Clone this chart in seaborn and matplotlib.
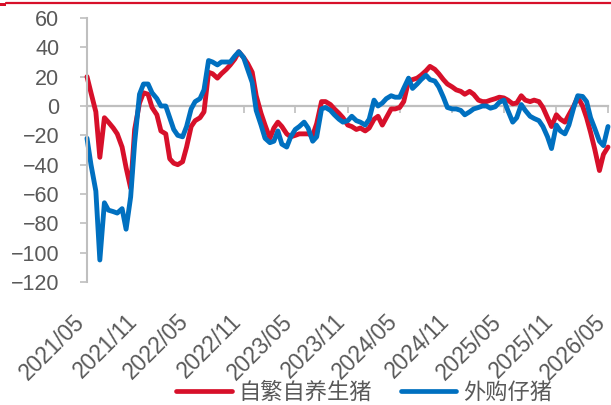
import matplotlib
matplotlib.use("Agg")
import matplotlib.pyplot as plt
import matplotlib.dates as mdates
import matplotlib.transforms as mtransforms
from matplotlib.lines import Line2D
from matplotlib.patches import Rectangle
import seaborn as sns
import pandas as pd

# Semi-monthly observations, May 2021 - May 2026
dates = pd.date_range("2021-05-01", periods=121, freq="SMS")

self_bred = [
    20, 9, -4, -35, -8, -11, -15, -19, -28, -42,
    -56, -16, 2, 9, 8, -1, -6, -17, -19, -36,
    -39, -40, -38, -28, -14, -10, -8, -4, 23, 22,
    19, 22, 25, 28, 32, 37, 33, 29, 23, 7,
    -5, -13, -22, -15, -11, -14, -19, -21, -20, -19,
    -19, -19, -20, -12, 3, 3, 1, -2, -5, -8,
    -13, -14, -16, -15, -17, -15, -9, -7, -13, -8,
    -2, -2, -1, 3, 17, 18, 19, 21, 24, 27,
    25, 22, 18, 15, 13, 11, 10, 8, 10, 8,
    4, 3, 3, 4, 5, 6, 5.5, 4, 1.5, 2,
    7, 4, 3, 4, 3, -1, -8, -14, -6, -9,
    -11, -6, 0, 6, 0, -8, -18, -29, -44, -33,
    -28,
]

piglets = [
    -22, -40, -58, -105, -66, -71, -72, -73, -70, -84,
    -62, -25, 8, 15, 15, 9, 5, 0, 0, -8,
    -16, -20, -21, -14, -2, 3, 5, 11, 31, 30,
    28, 30, 30, 30, 34, 37, 33, 25, 16, -3,
    -13, -22, -25, -24, -17, -26, -28, -21, -16, -14,
    -11, -15, -24, -21, -2, -1, -3, -6, -9, -11,
    -10, -7, -10, -11, -13, -9, 4, 0, 2, 5,
    7, 6, 6, 12, 19, 12, 15, 18, 21, 18,
    17, 13, 6, -1, -2, -2, -3, -6, -4, -2,
    -1, 0, 0, -1.5, -0.5, 2.5, 4, -3, -11, -8,
    1, -3, -7, -8.5, -10, -14, -21, -29, -13, -17,
    -19, -13, -1, 7, 6.5, 3, -8, -15, -24, -27,
    -14,
]

series_names = ["自繁自养生猪", "外购仔猪"]
tick_labels = ["2021/05", "2021/11", "2022/05", "2022/11", "2023/05", "2023/11",
               "2024/05", "2024/11", "2025/05", "2025/11", "2026/05"]
y_ticks = [60, 40, 20, 0, -20, -40, -60, -80, -100, -120]

RED = "#D7102A"
BLUE = "#0070C0"
GREY_TEXT = "#595959"
GREY_LINE = "#BFBFBF"

df = pd.concat([
    pd.DataFrame({"date": dates, "value": self_bred, "series": series_names[0]}),
    pd.DataFrame({"date": dates, "value": piglets, "series": series_names[1]}),
])

sns.set_theme(style="white")
plt.rcParams["font.family"] = ["Liberation Sans", "Noto Sans CJK SC", "DejaVu Sans"]

fig = plt.figure(figsize=(6.11, 4.05), dpi=100)
ax = fig.add_axes([87 / 611, 1 - 282 / 405, (608 - 87) / 611, (282 - 18) / 405])

sns.lineplot(data=df, x="date", y="value", hue="series", hue_order=series_names,
             palette=[RED, BLUE], linewidth=3.5, sort=False, ax=ax,
             legend=False, clip_on=False)

ax.set_xlim(pd.Timestamp("2021-05-01"), pd.Timestamp("2026-05-01"))
ax.set_ylim(-120, 60)
ax.set_yticks(y_ticks)
ax.set_xlabel("")
ax.set_ylabel("")

for side in ["top", "right", "bottom"]:
    ax.spines[side].set_visible(False)
ax.spines["left"].set_color(GREY_LINE)
ax.spines["left"].set_linewidth(1.5)

ax.tick_params(axis="y", which="major", left=True, direction="out", length=5,
               width=1.2, color=GREY_LINE, pad=15, labelsize=15.5,
               labelcolor=GREY_TEXT)
ax.tick_params(axis="x", which="major", bottom=True, length=0, pad=26,
               labelsize=16.3, labelcolor=GREY_TEXT)

tick_dates = [pd.Timestamp(t.replace("/", "-") + "-01") for t in tick_labels]
ax.set_xticks(tick_dates)
ax.set_xticklabels(tick_labels, rotation=45, ha="right", va="center",
                   rotation_mode="anchor")
# nudge the rotated date labels slightly left so the last one stays inside
shift = mtransforms.ScaledTranslation(-6 / 100, 0, fig.dpi_scale_trans)
for tick in ax.xaxis.get_major_ticks():
    tick.label1.set_transform(tick.label1.get_transform() + shift)

# zero baseline carrying the date tick marks
zero_frac = (0 - (-120)) / (60 - (-120))
sec = ax.secondary_xaxis(zero_frac)
sec.set_xticks([mdates.date2num(d) for d in tick_dates])
sec.tick_params(axis="x", direction="in", length=5, width=1.2, color=GREY_LINE,
                labeltop=False, labelbottom=False)
for sp in sec.spines.values():
    sp.set_color(GREY_LINE)
    sp.set_linewidth(1.6)
sec.set_zorder(0)

handles = [Line2D([0], [0], color=RED, lw=3.4), Line2D([0], [0], color=BLUE, lw=3.4)]
fig.legend(handles, series_names, loc="center", bbox_to_anchor=(364 / 611, 1 - 393 / 405),
           ncol=2, frameon=False, fontsize=16, handlelength=2.5, handletextpad=0.3,
           columnspacing=1.3, labelcolor=GREY_TEXT, borderaxespad=0, borderpad=0)

# red header rule
fig.add_artist(Line2D([6 / 611, 1], [1 - 2.5 / 405] * 2, color=RED, lw=1.6,
                      transform=fig.transFigure))
fig.add_artist(Rectangle((0, 1 - 5.5 / 405), 6 / 611, 2 / 405, color=RED,
                         transform=fig.transFigure, lw=0))

fig.savefig("out.png", dpi=100)
